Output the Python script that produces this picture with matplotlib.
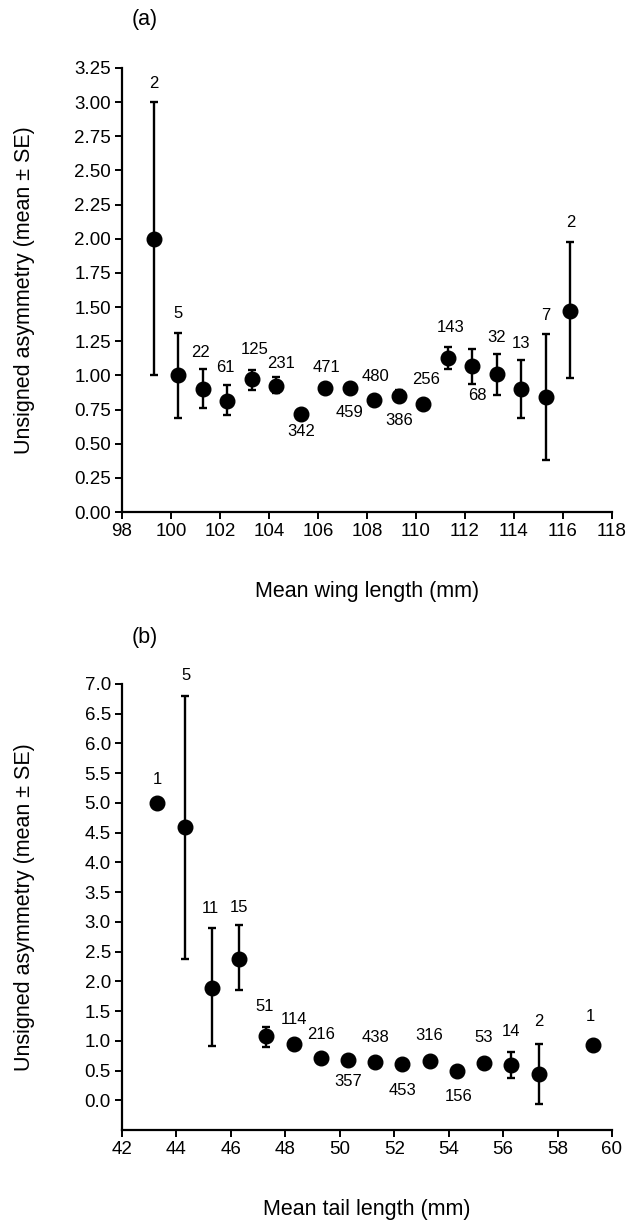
import matplotlib
matplotlib.use("Agg")
import matplotlib.pyplot as plt
import numpy as np

plt.rcParams['font.family'] = ['Liberation Sans', 'DejaVu Sans']

# ---------------- Panel (a): wing length ----------------
wing_x = [99.3, 100.3, 101.3, 102.3, 103.3, 104.3, 105.3, 106.3, 107.3, 108.3,
          109.3, 110.3, 111.3, 112.3, 113.3, 114.3, 115.3, 116.3]
wing_mean = [2.00, 1.00, 0.90, 0.81, 0.97, 0.92, 0.72, 0.91, 0.91, 0.82,
             0.85, 0.79, 1.13, 1.07, 1.01, 0.90, 0.84, 1.47]
wing_hi = [3.00, 1.31, 1.05, 0.93, 1.04, 0.99, 0.74, 0.93, 0.93, 0.84,
           0.89, 0.81, 1.21, 1.19, 1.16, 1.11, 1.30, 1.98]
wing_lo = [1.00, 0.69, 0.76, 0.71, 0.89, 0.87, 0.70, 0.89, 0.89, 0.80,
           0.81, 0.77, 1.05, 0.94, 0.86, 0.69, 0.38, 0.98]
wing_n = ['2', '5', '22', '61', '125', '231', '342', '471', '459', '480',
          '386', '256', '143', '68', '32', '13', '7', '2']
wing_label_x = [99.3, 100.3, 101.2, 102.2, 103.4, 104.5, 105.3, 106.35, 107.3, 108.35,
                109.3, 110.4, 111.4, 112.5, 113.3, 114.3, 115.3, 116.3]
wing_label_y = [3.14, 1.45, 1.17, 1.06, 1.19, 1.09, 0.59, 1.06, 0.73, 0.99,
                0.67, 0.97, 1.35, 0.85, 1.28, 1.23, 1.44, 2.12]

# ---------------- Panel (b): tail length ----------------
tail_x = [43.3, 44.3, 45.3, 46.3, 47.3, 48.3, 49.3, 50.3, 51.3, 52.3,
          53.3, 54.3, 55.3, 56.3, 57.3, 59.3]
tail_mean = [5.00, 4.60, 1.89, 2.38, 1.08, 0.94, 0.71, 0.68, 0.64, 0.61,
             0.66, 0.50, 0.63, 0.59, 0.44, 0.93]
tail_hi = [5.00, 6.80, 2.90, 2.94, 1.23, 0.99, 0.74, 0.71, 0.67, 0.64,
           0.70, 0.53, 0.66, 0.82, 0.95, 0.93]
tail_lo = [5.00, 2.38, 0.91, 1.85, 0.90, 0.89, 0.68, 0.65, 0.61, 0.58,
           0.62, 0.47, 0.60, 0.38, -0.06, 0.93]
tail_n = ['1', '5', '11', '15', '51', '114', '216', '357', '438', '453',
          '316', '156', '53', '14', '2', '1']
tail_label_x = [43.3, 44.35, 45.25, 46.3, 47.25, 48.3, 49.3, 50.3, 51.3, 52.3,
                53.3, 54.35, 55.3, 56.3, 57.3, 59.2]
tail_label_y = [5.39, 7.15, 3.22, 3.25, 1.57, 1.35, 1.10, 0.31, 1.05, 0.16,
                1.09, 0.06, 1.05, 1.15, 1.32, 1.41]

W, H = 629, 1222
fig = plt.figure(figsize=(W / 100, H / 100), dpi=100)

ylabel = 'Unsigned asymmetry (mean \u00b1 SE)'
tick_fs = 13.5
lab_fs = 15.5
n_fs = 12


def style_axes(ax):
    for s in ['top', 'right']:
        ax.spines[s].set_visible(False)
    for s in ['left', 'bottom']:
        ax.spines[s].set_linewidth(1.6)
    ax.tick_params(direction='out', length=5, width=1.4, labelsize=tick_fs, pad=3)


def draw(ax, x, m, hi, lo, n, lx, ly):
    x = np.asarray(x); m = np.asarray(m)
    yerr = np.vstack([m - np.asarray(lo), np.asarray(hi) - m])
    ax.errorbar(x, m, yerr=yerr, fmt='o', color='black', ms=10.5,
                elinewidth=1.7, capsize=3, capthick=1.7, zorder=3)
    for xi, yi, t in zip(lx, ly, n):
        ax.text(xi, yi, t, ha='center', va='center', fontsize=n_fs)


# panel a axes: pixels left 122, right 612, top 68, bottom 512
axa = fig.add_axes([122 / W, 1 - 512 / H, 490 / W, 444 / H])
draw(axa, wing_x, wing_mean, wing_hi, wing_lo, wing_n, wing_label_x, wing_label_y)
axa.set_xlim(98, 118)
axa.set_ylim(0, 3.25)
axa.set_xticks(np.arange(98, 119, 2))
axa.set_yticks(np.arange(0, 3.26, 0.25))
axa.set_yticklabels([f'{v:.2f}' for v in np.arange(0, 3.26, 0.25)])
style_axes(axa)
axa.set_ylabel(ylabel, fontsize=lab_fs)
axa.yaxis.set_label_coords(-0.178, 0.5)
fig.text(367 / W, 1 - 592 / H, 'Mean wing length (mm)', ha='center', va='center', fontsize=lab_fs)
fig.text(145 / W, 1 - 19 / H, '(a)', ha='center', va='center', fontsize=lab_fs)

# panel b axes: pixels left 122, right 612, top 684, bottom 1130
axb = fig.add_axes([122 / W, 1 - 1130 / H, 490 / W, 446 / H])
draw(axb, tail_x, tail_mean, tail_hi, tail_lo, tail_n, tail_label_x, tail_label_y)
axb.set_xlim(42, 60)
axb.set_ylim(-0.5, 7.0)
axb.set_xticks(np.arange(42, 61, 2))
axb.set_yticks(np.arange(0, 7.01, 0.5))
axb.set_yticklabels([f'{v:.1f}' for v in np.arange(0, 7.01, 0.5)])
style_axes(axb)
axb.set_ylabel(ylabel, fontsize=lab_fs)
axb.yaxis.set_label_coords(-0.178, 0.5)
fig.text(367 / W, 1 - 1210 / H, 'Mean tail length (mm)', ha='center', va='center', fontsize=lab_fs)
fig.text(145 / W, 1 - 637 / H, '(b)', ha='center', va='center', fontsize=lab_fs)

fig.savefig('out.png', dpi=100, facecolor='white')
